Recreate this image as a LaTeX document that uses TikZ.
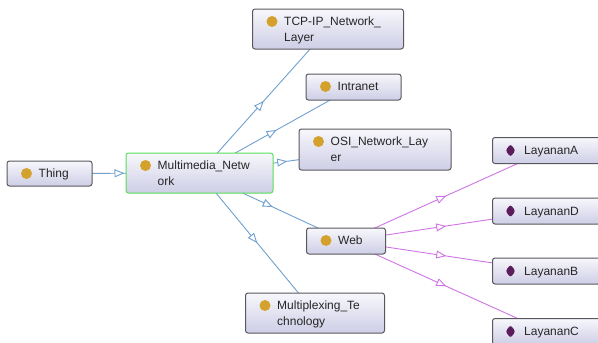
\documentclass[tikz,border=0pt]{standalone}
\usepackage{fontspec}
\setmainfont{Liberation Sans}
\usetikzlibrary{arrows.meta, decorations.markings, backgrounds}

\definecolor{boxtop}{RGB}{247,247,252}
\definecolor{boxbot}{RGB}{206,206,230}
\definecolor{boxline}{RGB}{88,88,94}
\definecolor{selgreen}{RGB}{88,222,88}
\definecolor{subblue}{RGB}{112,160,206}
\definecolor{instpurple}{RGB}{208,116,228}
\definecolor{classdot}{RGB}{212,162,44}
\definecolor{instdot}{RGB}{92,30,90}

\tikzset{
  opentip/.tip={Triangle[length=10pt,width=8pt,fill=white]},
  boxnode/.style={draw=boxline, line width=1pt, rounded corners=2.5pt,
    top color=boxtop, bottom color=boxbot, inner sep=0pt},
  classbox/.style={boxnode, path picture={
    \fill[classdot] ([xshift=19.5pt,yshift=-12.5pt]path picture bounding box.north west) circle (5.5pt);}},
  indbox/.style={boxnode, path picture={
    \fill[instdot] ([xshift=18pt,yshift=-13pt]path picture bounding box.north west)
      ++(0,6.5pt) -- ++(5pt,-6.5pt) -- ++(-5pt,-6.5pt) -- ++(-5pt,6.5pt) -- cycle;}},
  boxtext/.style={anchor=base west, inner sep=0pt, text=black!85,
    font=\fontsize{12}{16}\selectfont},
  subclass/.style={draw=subblue, line width=0.9pt, postaction={decorate},
    decoration={markings, mark=at position 0.5 with {\arrow{opentip}}}},
  member/.style={subclass, draw=instpurple}
}

% [extra] name, x, y, width, height, text
\newcommand\classnode[6][]{%
  \node[classbox, #1, minimum width=#4pt, minimum height=#5pt] (#2) at (#3) {};
  \node[boxtext] (#2-label) at ([xshift=32pt,yshift=-17pt]#2.north west)
    {\begin{tabular}[t]{@{}l@{}}#6\end{tabular}};
}
% name, x, y, text
\newcommand\indnode[3]{%
  \node[indbox, minimum width=108pt, minimum height=26pt] (#1) at (#2) {};
  \node[boxtext] (#1-label) at ([xshift=32pt,yshift=-17.5pt]#1.north west) {#3};
}

\begin{document}
\begin{tikzpicture}[x=1pt, y=-1pt]
\useasboundingbox (0,0) rectangle (598,343);
\clip (0,0) rectangle (598,343);

\classnode{thing}{49.5,173.5}{85}{25}{Thing}
\classnode[draw=selgreen]{multimedia}{199.5,173}{147}{40}{Multimedia\_Netw\\ork}
\classnode{tcpip}{328,29}{151}{40}{TCP-IP\_Network\_\\Layer}
\classnode{intranet}{353.5,87}{95}{26}{Intranet}
\classnode{osi}{375,149.5}{152}{41}{OSI\_Network\_Lay\\er}
\classnode{web}{346,241}{79}{26}{Web}
\classnode{multiplexing}{315,313}{139}{40}{Multiplexing\_Te\\chnology}

\indnode{layananA}{546.5,150.5}{LayananA}
\indnode{layananD}{546.5,211}{LayananD}
\indnode{layananB}{546.5,271}{LayananB}
\indnode{layananC}{546.5,331.5}{LayananC}

\begin{scope}[on background layer]
  \draw[subclass] (thing.center) -- (multimedia.center);
  \draw[subclass] (multimedia.center) -- (tcpip.center);
  \draw[subclass] (multimedia.center) -- (intranet.center);
  \draw[subclass] (multimedia.center) -- (osi.center);
  \draw[subclass] (multimedia.center) -- (web.center);
  \draw[subclass] (multimedia.center) -- (multiplexing.center);
  \draw[member] (web.center) -- (layananA.center);
  \draw[member] (web.center) -- (layananD.center);
  \draw[member] (web.center) -- (layananB.center);
  \draw[member] (web.center) -- (layananC.center);
\end{scope}
\end{tikzpicture}
\end{document}
